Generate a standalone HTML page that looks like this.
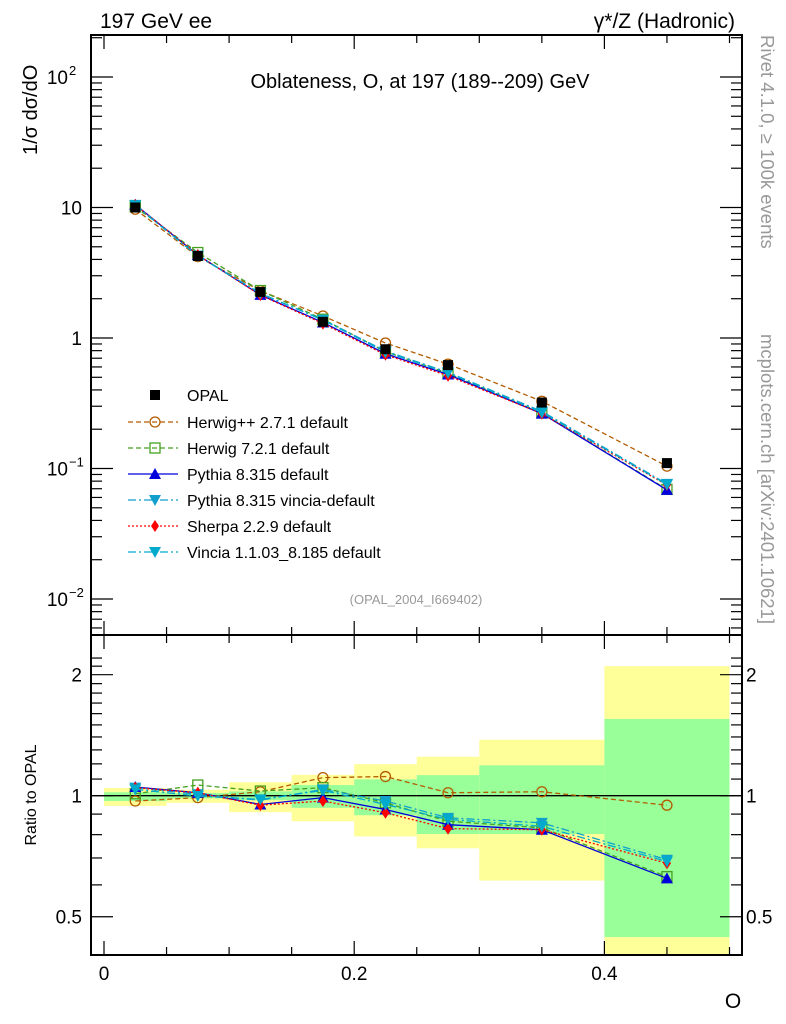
<!DOCTYPE html>
<html><head><meta charset="utf-8"><style>
html,body{margin:0;padding:0;background:#fff;}
svg{display:block;font-family:"Liberation Sans",sans-serif;}
</style></head><body>
<svg id="c" width="786" height="1024" viewBox="0 0 786 1024" xmlns="http://www.w3.org/2000/svg">
<text x="100" y="28" font-size="21">197 GeV ee</text>
<text x="735" y="28" font-size="21" text-anchor="end">γ*/Z (Hadronic)</text>
<text x="420" y="88" font-size="20" text-anchor="middle">Oblateness, O, at 197 (189--209) GeV</text>
<text transform="translate(37,155) rotate(-90)" font-size="20">1/σ  dσ/dO</text>
<text transform="translate(36,795) rotate(-90)" font-size="16" text-anchor="middle">Ratio to OPAL</text>
<text transform="translate(761,35) rotate(90)" font-size="18.5" fill="#999">Rivet 4.1.0, ≥ 100k events</text>
<text transform="translate(761,334) rotate(90)" font-size="18.5" fill="#999">mcplots.cern.ch [arXiv:2401.10621]</text>
<text x="416" y="604" font-size="13" fill="#999" text-anchor="middle">(OPAL_2004_I669402)</text>
<text x="733" y="1008" font-size="21" text-anchor="middle">O</text>
<g id="bands"></g><g id="marks"></g><g id="axes"></g><g id="legend"></g>
</svg>
<script>
const binLo=[0,0.05,0.1,0.15,0.2,0.25,0.3,0.4];
const binHi=[0.05,0.1,0.15,0.2,0.25,0.3,0.4,0.5];
const opal=[10.0,4.25,2.25,1.33,0.82,0.62,0.32,0.110];
const totUp=[0.045,0.035,0.08,0.127,0.198,0.25,0.378,1.1];
const totDn=[0.057,0.04,0.09,0.136,0.208,0.26,0.385,0.7];
const statUp=[0.02,0.015,0.025,0.063,0.098,0.125,0.19,0.552];
const statDn=[0.03,0.015,0.025,0.067,0.106,0.197,0.197,0.555];
const rHerwigpp=[0.970,0.989,1.023,1.109,1.116,1.017,1.023,0.947];
const rHerwig7=[1.011,1.063,1.027,1.047,0.960,0.864,0.832,0.629];
const rPythia=[1.051,1.017,0.951,0.989,0.924,0.847,0.823,0.623];
const rPyVincia=[1.047,1.008,0.974,1.037,0.970,0.881,0.856,0.693];
const rSherpa=[1.047,1.017,0.947,0.970,0.907,0.828,0.823,0.679];
const rVincia=[1.037,0.998,0.979,1.031,0.951,0.873,0.839,0.686];
const xTicks=[0,0.2,0.4];const xTickLabels=["0","0.2","0.4"];
const ratioTicks=[0.5,1,2];const ratioTickLabels=["0.5","1","2"];

const NS="http://www.w3.org/2000/svg";
const X0=91,X1=742,YT=35,YM=635,YB=955;
const x=v=>104+v*1251;
const y=v=>338-130.5*Math.log10(v);
const yr=v=>795.7-402*Math.log10(v);
function mk(tag,at,parent){const e=document.createElementNS(NS,tag);for(const k in at)e.setAttribute(k,at[k]);document.getElementById(parent).appendChild(e);return e;}
const centers=binLo.map((l,i)=>(l+binHi[i])/2);
for(let i=0;i<binLo.length;i++){
 const clip=v=>Math.min(YB,Math.max(YM,v));
 let r=mk('rect',{x:x(binLo[i]),width:x(binHi[i])-x(binLo[i]),y:clip(yr(1+totUp[i])),height:clip(yr(Math.max(0.05,1-totDn[i])))-clip(yr(1+totUp[i])),fill:'#ffff99'},'bands');
 
 
 let g=mk('rect',{x:x(binLo[i]),width:x(binHi[i])-x(binLo[i]),y:clip(yr(1+statUp[i])),height:clip(yr(Math.max(0.05,1-statDn[i])))-clip(yr(1+statUp[i])),fill:'#99ff99'},'bands');
 
 
}
const series=[
 {n:'herwigpp',r:rHerwigpp,c:'#b35c00',d:'5,3',m:'circle',label:'Herwig++ 2.7.1 default'},
 {n:'herwig7',r:rHerwig7,c:'#44a020',d:'5,3',m:'square',label:'Herwig 7.2.1 default'},
 {n:'pythia',r:rPythia,c:'#0000dd',d:'',m:'up',label:'Pythia 8.315 default'},
 {n:'pythia-vincia',r:rPyVincia,c:'#11a0cc',d:'8,3,2,3',m:'down',label:'Pythia 8.315 vincia-default'},
 {n:'sherpa',r:rSherpa,c:'#ff0000',d:'2,2',m:'diamond',label:'Sherpa 2.2.9 default'},
 {n:'vincia',r:rVincia,c:'#00aacc',d:'8,3,2,3',m:'down',label:'Vincia 1.1.03_8.185 default'}
];
function marker(type,cx,cy,col,parent,name){
 let e;
 if(type==='circle')e=mk('circle',{cx,cy,r:5,fill:'none',stroke:col,'stroke-width':1.3},parent);
 else if(type==='square')e=mk('rect',{x:cx-5,y:cy-5,width:10,height:10,fill:'none',stroke:col,'stroke-width':1.3},parent);
 else if(type==='up')e=mk('polygon',{points:`${cx},${cy-6} ${cx-6},${cy+5} ${cx+6},${cy+5}`,fill:col},parent);
 else if(type==='down')e=mk('polygon',{points:`${cx},${cy+6} ${cx-6},${cy-5} ${cx+6},${cy-5}`,fill:col},parent);
 else if(type==='diamond')e=mk('polygon',{points:`${cx},${cy-6} ${cx-4},${cy} ${cx},${cy+6} ${cx+4},${cy}`,fill:col},parent);
 else e=mk('rect',{x:cx-5,y:cy-5,width:10,height:10,fill:col},parent);
 
 
}
let one=mk('line',{x1:X0,x2:X1,y1:yr(1),y2:yr(1),stroke:'#000','stroke-width':1.3},'marks');


series.forEach(s=>{
 const main=centers.map((c,i)=>[x(c),y(opal[i]*s.r[i])]);
 const rat=centers.map((c,i)=>[x(c),yr(s.r[i])]);
 let p=mk('polyline',{points:main.map(q=>q.join(',')).join(' '),fill:'none',stroke:s.c,'stroke-width':1.3,'stroke-dasharray':s.d},'marks');
 
 
 let p2=mk('polyline',{points:rat.map(q=>q.join(',')).join(' '),fill:'none',stroke:s.c,'stroke-width':1.3,'stroke-dasharray':s.d},'marks');
 
 
 main.forEach(q=>marker(s.m,q[0],q[1],s.c,'marks',s.n+'-point'));
 rat.forEach(q=>marker(s.m,q[0],q[1],s.c,'marks',s.n+'-ratio-point'));
});
centers.forEach((c,i)=>{
 marker('filled',x(c),y(opal[i]),'#000','marks','opal-point');
});
const fr=(y1,y2,nm)=>{let r=mk('rect',{x:X0,y:y1,width:X1-X0,height:y2-y1,fill:'none',stroke:'#000','stroke-width':2},'axes');};
fr(YT,YM,'main-plot-frame');fr(YM,YB,'ratio-plot-frame');
function tick(x1,y1,x2,y2){let t=mk('line',{x1,y1,x2,y2,stroke:'#000','stroke-width':1.2},'axes');}
for(let k=0;k<=10;k++){const v=k*0.05,px=x(v),L=(k%4===0)?14:8;
 tick(px,YT,px,YT+L);tick(px,YM,px,YM-L);tick(px,YM,px,YM+L);tick(px,YB,px,YB-L);}
xTicks.forEach((v,i)=>{let t=mk('text',{x:x(v),y:980,'font-size':19,'text-anchor':'middle'},'axes');t.textContent=xTickLabels[i];});
for(let e=-3;e<=2;e++){for(let m=1;m<10;m++){const v=m*Math.pow(10,e),py=y(v);if(py<YT||py>YM)continue;const L=m===1?22:11;tick(X0,py,X0+L,py);tick(X1,py,X1-L,py);}}
const mainLabels=[[100,'10','2'],[10,'10',''],[1,'1',''],[0.1,'10','−1'],[0.01,'10','−2']];
mainLabels.forEach(l=>{let t=mk('text',{x:l[2]?68:82,y:y(l[0])+7,'font-size':19,'text-anchor':'end'},'axes');t.textContent=l[1];
 if(l[2]){let s=mk('text',{x:69,y:y(l[0])-2,'font-size':13},'axes');s.textContent=l[2];}});
for(let v=0.4;v<=2.3;v+=0.1){const py=yr(v);if(py<YM||py>YB)continue;const maj=Math.abs(v-0.5)<1e-6||Math.abs(v-1)<1e-6||Math.abs(v-2)<1e-6;const L=maj?22:11;tick(X0,py,X0+L,py);tick(X1,py,X1-L,py);}
ratioTicks.forEach((v,i)=>{let t=mk('text',{x:82,y:yr(v)+7,'font-size':19,'text-anchor':'end'},'axes');t.textContent=ratioTickLabels[i];
 let t2=mk('text',{x:746,y:yr(v)+7,'font-size':19},'axes');t2.textContent=ratioTickLabels[i];});
const LY=[395,422,448,474,500,526,552];
marker('filled',155,LY[0],'#000','legend','legend-marker-opal');
let lt=mk('text',{x:187,y:LY[0]+6,'font-size':16},'legend');lt.textContent='OPAL';
series.forEach((s,i)=>{const yy=LY[i+1];
 let l=mk('line',{x1:128,x2:178,y1:yy,y2:yy,stroke:s.c,'stroke-width':1.3,'stroke-dasharray':s.d},'legend');
 marker(s.m,155,yy,s.c,'legend','legend-marker-'+s.n);
 let t=mk('text',{x:187,y:yy+6,'font-size':16},'legend');t.textContent=s.label;});
</script>
</body></html>
